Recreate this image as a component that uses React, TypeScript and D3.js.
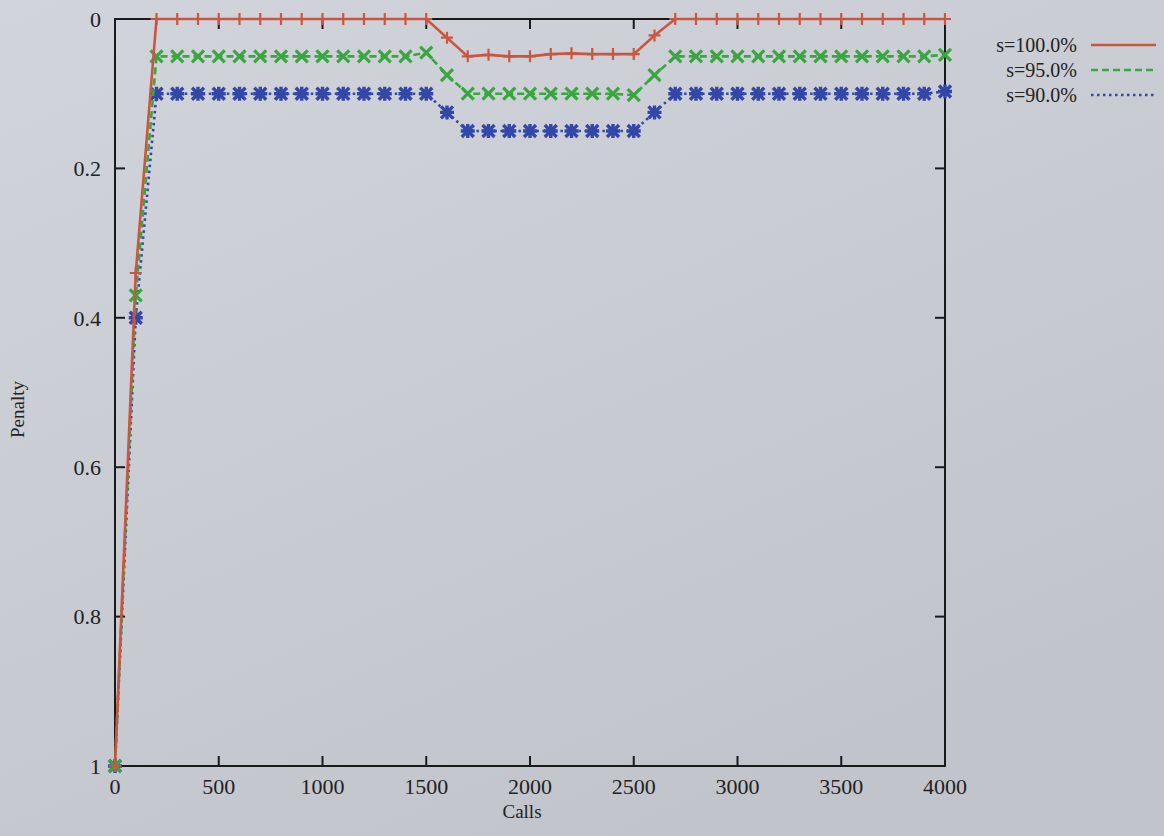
import React, { useEffect, useRef } from 'react'
import * as d3 from 'd3'

// calls on the x axis, one sample every 100 calls
const calls = [0, 100, 200, 300, 400, 500, 600, 700, 800, 900, 1000, 1100, 1200, 1300, 1400, 1500,
    1600, 1700, 1800, 1900, 2000, 2100, 2200, 2300, 2400, 2500, 2600, 2700, 2800, 2900, 3000,
    3100, 3200, 3300, 3400, 3500, 3600, 3700, 3800, 3900, 4000]

const s100 = [1, 0.34, 0, 0, 0, 0, 0, 0, 0, 0, 0, 0, 0, 0, 0, 0,
    0.025, 0.05, 0.048, 0.05, 0.05, 0.047, 0.046, 0.047, 0.047, 0.047, 0.022, 0, 0, 0, 0,
    0, 0, 0, 0, 0, 0, 0, 0, 0, 0]

const s95 = [1, 0.37, 0.05, 0.05, 0.05, 0.05, 0.05, 0.05, 0.05, 0.05, 0.05, 0.05, 0.05, 0.05, 0.05, 0.045,
    0.075, 0.1, 0.1, 0.1, 0.1, 0.1, 0.1, 0.1, 0.1, 0.102, 0.075, 0.05, 0.05, 0.05, 0.05,
    0.05, 0.05, 0.05, 0.05, 0.05, 0.05, 0.05, 0.05, 0.05, 0.048]

const s90 = [1, 0.4, 0.1, 0.1, 0.1, 0.1, 0.1, 0.1, 0.1, 0.1, 0.1, 0.1, 0.1, 0.1, 0.1, 0.1,
    0.125, 0.15, 0.15, 0.15, 0.15, 0.15, 0.15, 0.15, 0.15, 0.15, 0.125, 0.1, 0.1, 0.1, 0.1,
    0.1, 0.1, 0.1, 0.1, 0.1, 0.1, 0.1, 0.1, 0.1, 0.097]

const seriesNames = ['s=100.0%', 's=95.0%', 's=90.0%']
const xTicks = [0, 500, 1000, 1500, 2000, 2500, 3000, 3500, 4000]
const yTicks = [0, 0.2, 0.4, 0.6, 0.8, 1]

const W = 1164
const H = 836
const font = '"Liberation Serif", "DejaVu Serif", serif'

function Chart() {
    const ref = useRef<SVGSVGElement>(null)

    useEffect(() => {
        const svg = d3.select(ref.current)
        svg.selectAll('*').remove()

        const margin = { top: 19, right: 219, bottom: 70, left: 115 }
        const iw = W - margin.left - margin.right
        const ih = H - margin.top - margin.bottom

        // photographed paper background
        const defs = svg.append('defs')
        const grad = defs.append('linearGradient').attr('id', 'bg')
            .attr('x1', 0).attr('y1', 0).attr('x2', 0.6).attr('y2', 1)
        grad.append('stop').attr('offset', '0%').attr('stop-color', '#d2d4db')
        grad.append('stop').attr('offset', '100%').attr('stop-color', '#c2c4cb')
        svg.append('rect').attr('width', W).attr('height', H).attr('fill', 'url(#bg)')

        const x = d3.scaleLinear().domain([0, 4000]).range([0, iw])
        const y = d3.scaleLinear().domain([0, 1]).range([0, ih]) // inverted: 0 at top

        const g = svg.append('g').attr('transform', `translate(${margin.left},${margin.top})`)

        const tickLen = 10
        const axisColor = '#1a1a1a'

        // frame
        g.append('rect').attr('width', iw).attr('height', ih)
            .attr('fill', 'none').attr('stroke', axisColor).attr('stroke-width', 2)

        // x ticks, mirrored inward
        xTicks.forEach(t => {
            if (t === 0 || t === 4000) return
            g.append('line').attr('x1', x(t)).attr('x2', x(t)).attr('y1', ih).attr('y2', ih - tickLen)
                .attr('stroke', axisColor).attr('stroke-width', 2)
            g.append('line').attr('x1', x(t)).attr('x2', x(t)).attr('y1', 0).attr('y2', tickLen)
                .attr('stroke', axisColor).attr('stroke-width', 2)
        })
        g.selectAll('.xl').data(xTicks).enter().append('text')
            .attr('x', d => x(d)).attr('y', ih + 28)
            .attr('text-anchor', 'middle')
            .style('font-family', font).style('font-size', '22px').attr('fill', '#222')
            .text(d => d)

        // y ticks
        yTicks.forEach(t => {
            if (t === 0 || t === 1) return
            g.append('line').attr('x1', 0).attr('x2', tickLen).attr('y1', y(t)).attr('y2', y(t))
                .attr('stroke', axisColor).attr('stroke-width', 2)
            g.append('line').attr('x1', iw).attr('x2', iw - tickLen).attr('y1', y(t)).attr('y2', y(t))
                .attr('stroke', axisColor).attr('stroke-width', 2)
        })
        g.selectAll('.yl').data(yTicks).enter().append('text')
            .attr('x', -14).attr('y', d => y(d)).attr('dy', '0.35em')
            .attr('text-anchor', 'end')
            .style('font-family', font).style('font-size', '22px').attr('fill', '#222')
            .text(d => d3.format('')(d))

        // axis titles
        g.append('text').attr('x', iw / 2 - 8).attr('y', ih + 52).attr('text-anchor', 'middle')
            .style('font-family', font).style('font-size', '19px').attr('fill', '#222').text('Calls')
        g.append('text').attr('transform', `translate(${-91},${ih / 2 + 17}) rotate(-90)`)
            .attr('text-anchor', 'middle')
            .style('font-family', font).style('font-size', '19px').attr('fill', '#222').text('Penalty')

        const series = [
            { name: seriesNames[0], values: s100, color: '#c9573f', dash: null, marker: 'plus' },
            { name: seriesNames[1], values: s95, color: '#3aa640', dash: '7,4', marker: 'cross' },
            { name: seriesNames[2], values: s90, color: '#3347a8', dash: '2.5,3.5', marker: 'star' },
        ]

        const line = d3.line<number>()
            .x((d, i) => x(calls[i]))
            .y(d => y(d))

        // draw bottom series first so red stays on top
        series.slice().reverse().forEach(s => {
            g.append('path').datum(s.values).attr('d', line)
                .attr('fill', 'none').attr('stroke', s.color).attr('stroke-width', 2.6)
                .attr('stroke-dasharray', s.dash)

            const pts = g.append('g').attr('stroke', s.color).attr('stroke-linecap', 'butt')
            s.values.forEach((v, i) => {
                const px = x(calls[i]), py = y(v)
                const r = 6
                if (s.marker === 'plus') {
                    pts.append('path').attr('d', `M${px - r},${py}H${px + r}M${px},${py - r}V${py + r}`)
                        .attr('stroke-width', 2.2)
                } else if (s.marker === 'cross') {
                    pts.append('path').attr('d', `M${px - r},${py - r}L${px + r},${py + r}M${px - r},${py + r}L${px + r},${py - r}`)
                        .attr('stroke-width', 3.2)
                } else {
                    pts.append('path').attr('d', `M${px - r},${py - r}L${px + r},${py + r}M${px - r},${py + r}L${px + r},${py - r}M${px - r - 1},${py}H${px + r + 1}M${px},${py - r - 1}V${py + r + 1}`)
                        .attr('stroke-width', 3.4)
                }
            })
        })

        // legend
        const lg = svg.append('g')
        series.forEach((s, i) => {
            const ly = 45 + i * 25
            lg.append('text').attr('x', 1077).attr('y', ly).attr('dy', '0.35em')
                .attr('text-anchor', 'end')
                .style('font-family', font).style('font-size', '20px').attr('fill', '#222')
                .text(s.name)
            lg.append('line').attr('x1', 1091).attr('x2', 1156).attr('y1', ly).attr('y2', ly)
                .attr('stroke', s.color).attr('stroke-width', 2.6)
                .attr('stroke-dasharray', s.dash)
        })
    }, [])

    return <svg ref={ref} width={W} height={H} style={{ display: 'block' }}></svg>
}

export default function App() {
    return (
        <div style={{ position: 'absolute', left: 0, top: 0 }}>
            <Chart />
        </div>
    )
}
